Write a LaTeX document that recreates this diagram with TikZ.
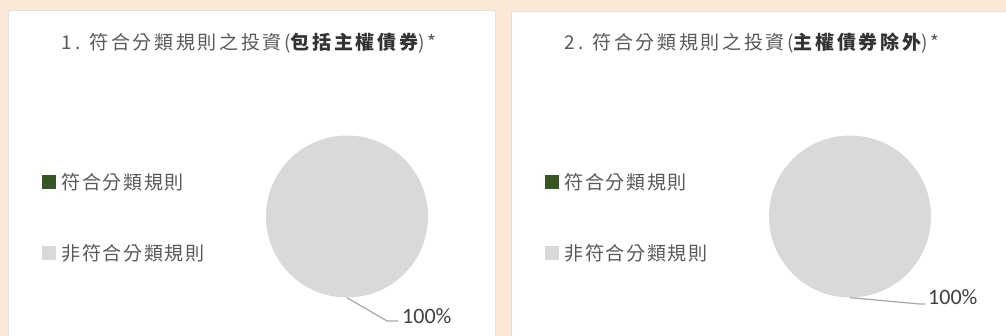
\documentclass[tikz,border=0pt]{standalone}
\usepackage{fontspec}
\usepackage{tikz}
\usetikzlibrary{positioning}
\setmainfont{Noto Sans CJK TC}
\newfontfamily\cjk[LetterSpace=9]{Noto Sans CJK TC}
\newfontfamily\cjkhead[LetterSpace=14]{Noto Sans CJK TC}
\newfontfamily\calib{Carlito}
\definecolor{peach}{HTML}{FBE8D7}
\definecolor{slicegrey}{HTML}{D9D9D9}
\definecolor{slicegreen}{HTML}{375623}
\definecolor{txtgrey}{HTML}{595959}
\definecolor{leadgrey}{HTML}{A6A6A6}
\tikzstyle{panel}=[
    fill = white,
    draw = black!12,
    line width = 1pt
]
\tikzstyle{title}=[
    font = \cjkhead\fontsize{19}{21}\selectfont,
    text = txtgrey,
    inner sep = 0pt
]
\tikzstyle{pie}=[
    circle,
    fill = slicegrey,
    minimum size = 162pt,
    inner sep = 0pt
]

\begin{document}
\begin{tikzpicture}[x=1pt, y=-1pt, node distance={5pt},
    key/.style = {minimum size = 14pt, inner sep = 0pt},
    keytext/.style = {font = \cjk\fontsize{19}{21}\selectfont, text = txtgrey, inner sep = 0pt},
    pct/.style = {font = \calib\fontsize{22}{24}\selectfont, text = black!75, inner sep = 0pt, anchor = west},
    leader/.style = {draw = leadgrey, line width = 1.2pt}]
        \useasboundingbox (0,0) rectangle (1006,336);
        \fill[peach] (0,0) rectangle (1006,336);
        \draw[panel] (8,11) rectangle (495,345);
        \draw[panel] (511,12) rectangle (1012,345);

        % left chart
        \node[title] (t1) at (249,43) {1. 符合分類規則之投資({\color{black!80}\bfseries 包括主權債券})*};
        \node[key, fill = slicegreen] (k1) at (49,182) {};
        \node[keytext] (l1) [right = of k1] {符合分類規則};
        \node[key, fill = slicegrey] (k2) [below = 57pt of k1] {};
        \node[keytext] (l2) [right = of k2] {非符合分類規則};
        \node[pie] (p1) at (347,216.5) {};
        \node[pct] (v1) at (402,316) {100\%};
        \coordinate (b1) at (387,321);
        \coordinate (e1) at (398,321);
        \draw[leader] (p1.south) -- (b1) -- (e1);

        % right chart
        \node[title] (t2) at (752,43) {2. 符合分類規則之投資({\color{black!80}\bfseries 主權債券除外})*};
        \node[key, fill = slicegreen] (k3) at (552,182) {};
        \node[keytext] (l3) [right = of k3] {符合分類規則};
        \node[key, fill = slicegrey] (k4) [below = 57pt of k3] {};
        \node[keytext] (l4) [right = of k4] {非符合分類規則};
        \node[pie] (p2) at (850,216.5) {};
        \node[pct] (v2) at (928,297) {100\%};
        \coordinate (b2) at (920,304);
        \coordinate (e2) at (925,304);
        \draw[leader] (p2.south) -- (b2) -- (e2);

    \end{tikzpicture}
\end{document}
